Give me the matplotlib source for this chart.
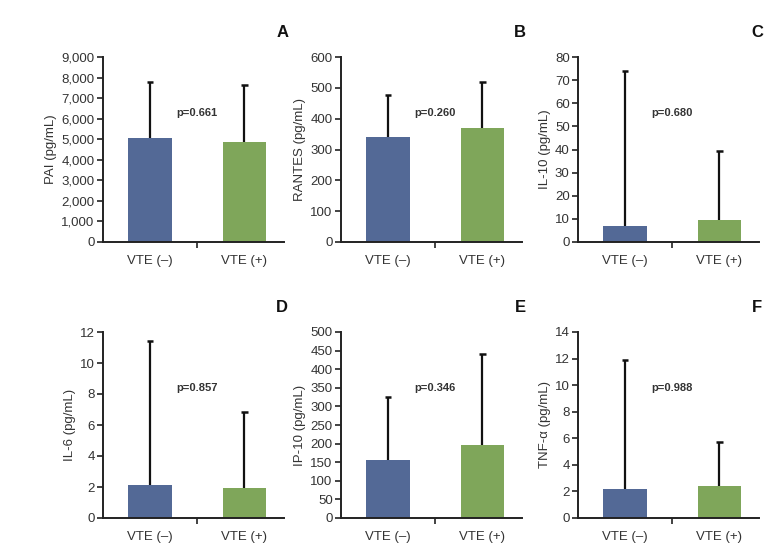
import matplotlib
matplotlib.use("Agg")
import matplotlib.pyplot as plt
from matplotlib.ticker import FuncFormatter

plt.rcParams['font.family'] = ['Liberation Sans', 'DejaVu Sans']

groups = ['VTE (–)', 'VTE (+)']
colors = ['#536996', '#7fa65a']

letters = ['A', 'B', 'C', 'D', 'E', 'F']
ylabels = ['PAI (pg/mL)', 'RANTES (pg/mL)', 'IL-10 (pg/mL)',
           'IL-6 (pg/mL)', 'IP-10 (pg/mL)', 'TNF-α (pg/mL)']
pvals = ['p=0.661', 'p=0.260', 'p=0.680', 'p=0.857', 'p=0.346', 'p=0.988']

pai_mean = [5050, 4860]
pai_top = [7800, 7650]
rantes_mean = [340, 370]
rantes_top = [478, 519]
il10_mean = [7.0, 9.5]
il10_top = [73.8, 39.2]
il6_mean = [2.1, 1.95]
il6_top = [11.4, 6.85]
ip10_mean = [155, 195]
ip10_top = [325, 442]
tnf_mean = [2.2, 2.4]
tnf_top = [11.9, 5.7]

means = [pai_mean, rantes_mean, il10_mean, il6_mean, ip10_mean, tnf_mean]
tops = [pai_top, rantes_top, il10_top, il6_top, ip10_top, tnf_top]
ymax = [9000, 600, 80, 12, 500, 14]
ystep = [1000, 100, 10, 2, 50, 2]

lefts = [103, 341, 578]
W, H = 784, 551
txt = '#333333'

fig = plt.figure(figsize=(7.84, 5.51), dpi=100)

for i in range(6):
    row, col = divmod(i, 3)
    left = lefts[col]
    bottom_px = 242 if row == 0 else 518
    top_px = 57 if row == 0 else 332
    ax = fig.add_axes([left / W, (H - bottom_px) / H, 181 / W, (bottom_px - top_px) / H])

    m = means[i]
    x = [0, 1]
    ax.bar(x, m, width=0.46, color=colors, zorder=2)
    # upper error bars only
    ax.vlines(x, m, tops[i], color='#111111', linewidth=1.6, zorder=1)
    ax.hlines(tops[i], [v - 0.035 for v in x], [v + 0.035 for v in x],
              color='#111111', linewidth=1.8, zorder=1)

    ax.set_xlim(-0.5, 1.42)
    ax.set_ylim(0, ymax[i])
    ax.set_yticks([k * ystep[i] for k in range(int(round(ymax[i] / ystep[i])) + 1)])
    if i == 0:
        ax.yaxis.set_major_formatter(FuncFormatter(lambda v, p: f'{int(v):,}'))
    ax.set_xticks([0.5])
    ax.set_xticklabels([''])
    ax.tick_params(axis='x', direction='out', length=4, width=1.2, color='#222222')
    ax.tick_params(axis='y', direction='out', length=4, width=1.2, color='#222222',
                   labelsize=9.5, labelcolor=txt, pad=2)
    for j, g in enumerate(groups):
        ax.text(j, -0.07, g, transform=ax.get_xaxis_transform(), ha='center', va='top',
                fontsize=9.5, color=txt)

    for s in ['top', 'right']:
        ax.spines[s].set_visible(False)
    for s in ['left', 'bottom']:
        ax.spines[s].set_linewidth(1.4)
        ax.spines[s].set_color('#222222')

    ax.set_ylabel(ylabels[i], fontsize=9.5, color=txt, labelpad=3)
    ax.text(0.52, 0.70, pvals[i], transform=ax.transAxes, ha='center', va='center',
            fontsize=8, color=txt, fontweight='bold')
    ax.text(0.99, 1.13, letters[i], transform=ax.transAxes, ha='center', va='center',
            fontsize=12, color='#111111', fontweight='bold')

fig.savefig('out.png', dpi=100)
